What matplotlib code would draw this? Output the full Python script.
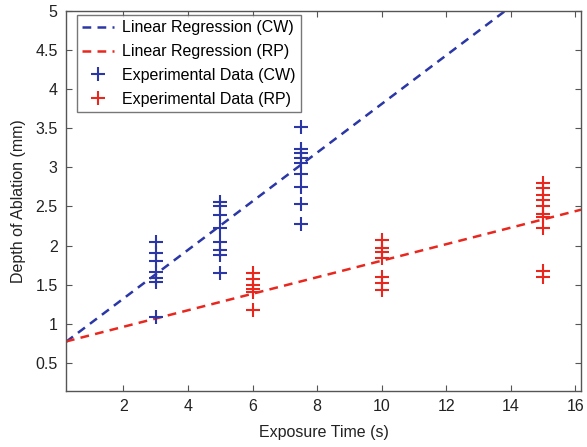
import numpy as np
import matplotlib
matplotlib.use("Agg")
import matplotlib.pyplot as plt

plt.rcParams['font.family'] = ['Liberation Sans', 'DejaVu Sans']

# 实验数据 (CW)
cw_x = [3] * 7 + [5] * 8 + [7.5] * 9
cw_y = [2.05, 1.91, 1.80, 1.66, 1.58, 1.53, 1.09,
        2.56, 2.50, 2.39, 2.22, 2.04, 1.94, 1.88, 1.65,
        3.52, 3.24, 3.18, 3.12, 3.05, 2.92, 2.75, 2.53, 2.27]

# 实验数据 (RP)
rp_x = [6] * 6 + [10] * 7 + [15] * 10
rp_y = [1.65, 1.57, 1.50, 1.45, 1.40, 1.18,
        2.07, 1.97, 1.92, 1.84, 1.60, 1.52, 1.43,
        2.80, 2.73, 2.65, 2.58, 2.50, 2.41, 2.36, 2.22, 1.68, 1.60]

# 线性回归参数 (斜率, 截距)
cw_fit = (0.311, 0.70)
rp_fit = (0.1056, 0.75)

x_lim = (0.22, 16.18)
y_lim = (0.14, 5)

blue = '#2b37a6'
red = '#e8281f'

fig = plt.figure(figsize=(5.87, 4.47), dpi=100)
ax = fig.add_axes([0.1124, 0.1253, 0.8774, 0.8501])

xx = np.array(x_lim)
ax.plot(xx, cw_fit[0] * xx + cw_fit[1], '--', color=blue, lw=1.8, dashes=(3.5, 2.5),
        label='Linear Regression (CW)')
ax.plot(xx, rp_fit[0] * xx + rp_fit[1], '--', color=red, lw=1.8, dashes=(3.5, 2.5),
        label='Linear Regression (RP)')
ax.plot(cw_x, cw_y, '+', color=blue, ms=10, mew=1.5, label='Experimental Data (CW)')
ax.plot(rp_x, rp_y, '+', color=red, ms=10, mew=1.5, label='Experimental Data (RP)')

ax.set_xlim(x_lim)
ax.set_ylim(y_lim)
ax.set_xticks([2, 4, 6, 8, 10, 12, 14, 16])
ax.set_yticks([0.5, 1, 1.5, 2, 2.5, 3, 3.5, 4, 4.5, 5])
ax.set_yticklabels(['0.5', '1', '1.5', '2', '2.5', '3', '3.5', '4', '4.5', '5'])
ax.tick_params(direction='in', top=True, right=True, length=4, width=0.8,
               color='#555555', labelsize=11.5, labelcolor='#222222', pad=6)
for s in ax.spines.values():
    s.set_color('#555555')
    s.set_linewidth(1.0)

ax.set_xlabel('Exposure Time (s)', fontsize=11.5, color='#222222', labelpad=8)
ax.set_ylabel('Depth of Ablation (mm)', fontsize=11.5, color='#222222', labelpad=7)

leg = ax.legend(loc='upper left', bbox_to_anchor=(0.021, 0.99), borderaxespad=0,
                fontsize=11.5, fancybox=False, frameon=True,
                edgecolor='#555555', handlelength=2.0, handletextpad=0.45,
                borderpad=0.35, labelspacing=0.55)
leg.get_frame().set_linewidth(1.0)

plt.savefig('out.png', dpi=100)
